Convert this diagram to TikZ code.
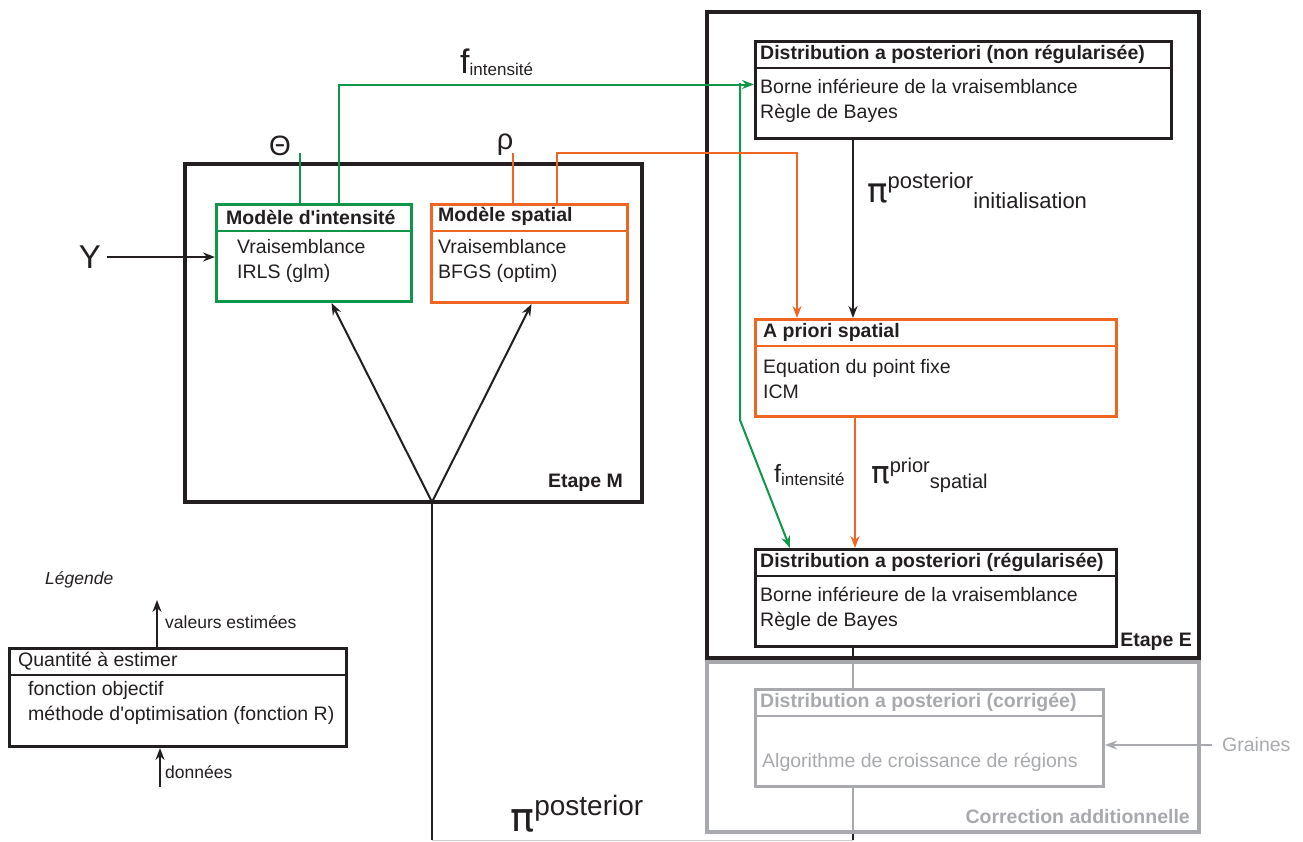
\documentclass[tikz,border=0pt]{standalone}
\usepackage{fontspec}
\setmainfont{Liberation Sans}
\newfontfamily\grec{DejaVu Sans}
\usetikzlibrary{arrows.meta}

\definecolor{vert}{RGB}{16,150,72}
\definecolor{orangeR}{RGB}{241,101,34}
\definecolor{gris}{RGB}{167,169,172}
\definecolor{noir}{RGB}{35,31,32}
\newcommand{\taille}[1]{\fontsize{#1}{#1}\selectfont}

\tikzset{
    boite/.style={draw, rectangle, anchor=north west, inner sep=0pt, line width=3pt},
    etape/.style={draw, rectangle, anchor=north west, inner sep=0pt, line width=4pt},
    titre/.style={anchor=west, inner sep=0pt, font=\bfseries\taille{19.5}},
    corps/.style={anchor=west, inner sep=0pt, align=left, font=\fontsize{19.5}{25}\selectfont},
    grand/.style={inner sep=0pt},
    lien/.style={line width=2pt},
}

\begin{document}
\begin{tikzpicture}[x=1pt, y=-1pt, >={Stealth[length=12pt, width=9pt, inset=4pt]}, noir]
    \useasboundingbox (0,0) rectangle (1303,841);

    % Cadres des etapes
    \node[etape, minimum width=457, minimum height=338] (etapeM) at (183,162) {};
    \node[etape, minimum width=492, minimum height=646] (etapeE) at (705,10) {};
    \node[etape, gris, minimum width=492, minimum height=170] (correction) at (705,660) {};
    \node[anchor=east, inner sep=0pt, font=\bfseries\taille{19.5}] (labM) at (623,483) {Etape M};
    \node[anchor=east, inner sep=0pt, font=\bfseries\taille{19.5}] (labE) at (1192,642) {Etape E};
    \node[anchor=east, inner sep=0pt, gris, font=\bfseries\taille{19.5}] (labC) at (1190,817) {Correction additionnelle};

    % Etape M : les deux modeles
    \node[boite, vert, minimum width=195, minimum height=97] (intens) at (215,203) {};
    \draw[vert, line width=2pt] ([yshift=-28pt]intens.north west) -- ([yshift=-28pt]intens.north east);
    \node[titre] (tIntens) at (226,217) {Modèle d\textquotesingle intensité};
    \node[corps] (cIntens) at (237,260.5) {Vraisemblance\\IRLS (glm)};

    \node[boite, orangeR, minimum width=196, minimum height=98] (spatial) at (430,203) {};
    \draw[orangeR, line width=2pt] ([yshift=-28pt]spatial.north west) -- ([yshift=-28pt]spatial.north east);
    \node[titre] (tSpatial) at (438,216) {Modèle spatial};
    \node[corps] (cSpatial) at (438,260.5) {Vraisemblance\\BFGS (optim)};

    % Etape E
    \node[boite, minimum width=416, minimum height=97] (postNR) at (754,40) {};
    \draw[line width=2pt] ([yshift=-28pt]postNR.north west) -- ([yshift=-28pt]postNR.north east);
    \node[titre] (tPostNR) at (760,54) {Distribution a posteriori (non régularisée)};
    \node[corps] (cPostNR) at (760,100.5) {Borne inférieure de la vraisemblance\\Règle de Bayes};

    \node[boite, orangeR, minimum width=361, minimum height=97] (apriori) at (754,318) {};
    \draw[orangeR, line width=2pt] ([yshift=-28pt]apriori.north west) -- ([yshift=-28pt]apriori.north east);
    \node[titre] (tApriori) at (763,332) {A priori spatial};
    \node[corps] (cApriori) at (763,379.5) {Equation du point fixe\\ICM};

    \node[boite, minimum width=361, minimum height=97] (postR) at (754,548) {};
    \draw[line width=2pt] ([yshift=-28pt]postR.north west) -- ([yshift=-28pt]postR.north east);
    \node[titre] (tPostR) at (760,562) {Distribution a posteriori (régularisée)};
    \node[corps] (cPostR) at (760,609) {Borne inférieure de la vraisemblance\\Règle de Bayes};

    % Correction additionnelle
    \node[boite, gris, minimum width=348, minimum height=97] (corrige) at (754,688) {};
    \draw[gris, line width=2pt] ([yshift=-28pt]corrige.north west) -- ([yshift=-28pt]corrige.north east);
    \node[titre, gris] (tCorrige) at (760,702) {Distribution a posteriori (corrigée)};
    \node[corps, gris] (cCorrige) at (762,762) {Algorithme de croissance de régions};
    \node[anchor=west, inner sep=0pt, gris, font=\taille{19.5}] (graines) at (1222,745) {Graines};
    \draw[lien, gris, ->] ([xshift=-10pt]graines.west) -- (graines.west -| corrige.east);

    % Parametres et donnees
    \node[grand, font=\taille{28}] (theta) at (280,146) {Θ};
    \node[grand, font=\taille{29}] (rho) at (505,145) {ρ};
    \node[grand, font=\taille{33}] (Y) at (90,257) {Y};
    \coordinate (thetaPied) at (300,153);
    \coordinate (rhoPied) at (513,153);
    \draw[lien, vert] (thetaPied) -- (thetaPied |- intens.north);
    \draw[lien, orangeR] (rhoPied) -- (rhoPied |- spatial.north);
    \draw[lien, ->] ([xshift=6pt]Y.east) -- (Y.east -| intens.west);

    % f intensite vers l'etape E
    \draw[lien, vert, ->] ([xshift=24.5pt]intens.north) |- ([yshift=5.5pt]postNR.west);
    \coordinate (fBranche) at (740,83);
    \coordinate (fCoude) at (740,420);
    \draw[lien, vert, ->] (fBranche) -- (fCoude) -- ([xshift=36pt]postR.north west);
    \node[anchor=base west, inner sep=0pt] (fHaut) at (460,73) {\taille{34}f\raisebox{-2pt}{\taille{17}intensité}};
    \node[anchor=base west, inner sep=0pt] (fBas) at (774,482) {\taille{25}f\raisebox{-3pt}{\taille{17}intensité}};

    % rho vers l'a priori
    \draw[lien, orangeR, ->] ([xshift=27pt]spatial.north) -- ++(0,-50) -| ([xshift=43pt]apriori.north west);

    % Enchainement de l'etape E
    \draw[lien, ->] ([xshift=99pt]postNR.south west) -- ([xshift=99pt]apriori.north west);
    \draw[lien, orangeR, ->] ([xshift=101pt]apriori.south west) -- ([xshift=101pt]postR.north west);
    \node[anchor=base west, inner sep=0pt] (piInit) at (867,202) {{\grec\taille{34}π}\raisebox{14pt}{\taille{22}posterior}\raisebox{-6pt}{\taille{22}initialisation}};
    \node[anchor=base west, inner sep=0pt] (piPrior) at (871,483) {{\grec\taille{31}π}\raisebox{11pt}{\taille{20}prior}\raisebox{-5pt}{\taille{20}spatial}};

    % Retour vers l'etape M
    \coordinate (fourche) at (432,502);
    \coordinate (retour) at (432,840);
    \coordinate (colonne) at (853,840);
    \draw[lien, ->] (fourche) -- ([xshift=17.5pt]intens.south);
    \draw[lien, ->] (fourche) -- ([xshift=2pt]spatial.south);
    \draw[lien] (fourche) -- (retour);
    \draw[gris!60, line width=1pt] (retour) -- (colonne);
    \draw[lien] (colonne) -- (colonne |- correction.south);
    \draw[lien, gris] (colonne |- correction.south) -- (colonne |- corrige.south);
    \draw[lien, gris] (colonne |- corrige.north) -- (colonne |- correction.north);
    \draw[lien] (colonne |- etapeE.south) -- (colonne |- postR.south);
    \node[anchor=base west, inner sep=0pt] (piPost) at (510,831) {{\grec\taille{40}π}\raisebox{16pt}{\taille{28}posterior}};

    % Legende
    \node[anchor=west, inner sep=0pt, font=\itshape\taille{17.5}] (titreLeg) at (45,580) {Légende};
    \node[boite, minimum width=337, minimum height=98] (legende) at (8,647) {};
    \draw[line width=2pt] ([yshift=-28pt]legende.north west) -- ([yshift=-28pt]legende.north east);
    \node[anchor=west, inner sep=0pt, font=\taille{19.5}] (tLeg) at (18,661) {Quantité à estimer};
    \node[corps] (cLeg) at (28,703) {fonction objectif\\méthode d\textquotesingle optimisation (fonction R)};
    \coordinate (valeurs) at (157,600);
    \coordinate (donnees) at (160,787);
    \draw[lien, ->] (valeurs |- legende.north) -- (valeurs);
    \draw[lien, ->] (donnees) -- (donnees |- legende.south);
    \node[anchor=west, inner sep=0pt, font=\taille{17.5}] (lValeurs) at (165,622) {valeurs estimées};
    \node[anchor=west, inner sep=0pt, font=\taille{17.5}] (lDonnees) at (165,772) {données};
\end{tikzpicture}
\end{document}
